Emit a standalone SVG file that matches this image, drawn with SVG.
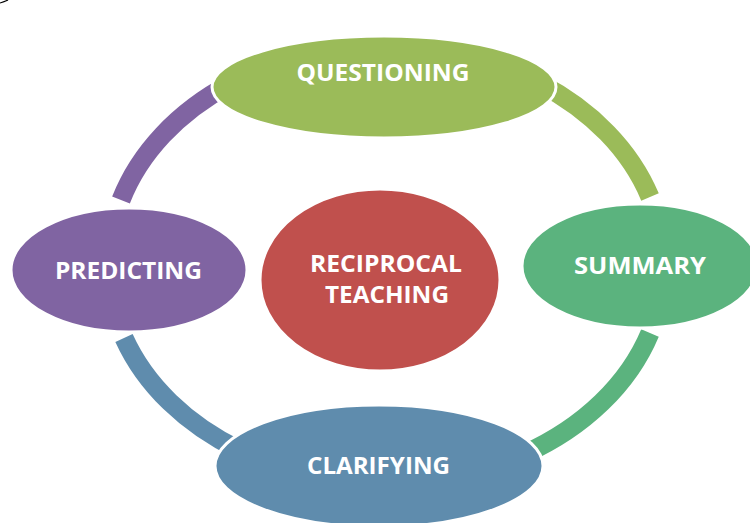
<svg xmlns="http://www.w3.org/2000/svg" width="750" height="523" viewBox="0 0 750 523">
  <style>
    .ring { fill: none; stroke-width: 19; stroke-linecap: butt; }
    .node { stroke: #ffffff; stroke-width: 3; }
    .label { fill: #ffffff; font-family: "Open Sans", "Liberation Sans", sans-serif; font-weight: bold; font-size: 24px; text-anchor: middle; }
  </style>
  <rect width="750" height="523" fill="#ffffff"/>
  <!-- small stroke fragment at the top-left corner -->
  <path d="M0 3 Q4 2 8 0" fill="none" stroke="#000000" stroke-width="1.2"/>

  <!-- cycle connectors: segments of one ellipse, centre (386,265), radii 278 x 218 -->
  <g id="connectors">
    <path class="ring" stroke="#9BBB59" d="M540 83.5 A278 218 0 0 1 650 197"/>
    <path class="ring" stroke="#5BB37E" d="M650 333 A278 218 0 0 1 525 453.8"/>
    <path class="ring" stroke="#5F8CAD" d="M240 450.5 A278 218 0 0 1 124 338"/>
    <path class="ring" stroke="#8064A2" d="M121 200 A278 218 0 0 1 230 84"/>
  </g>

  <g id="questioning">
    <ellipse class="node" cx="384" cy="87" rx="172" ry="51" fill="#9BBB59"/>
    <text class="label" x="383" y="81" textLength="173" lengthAdjust="spacingAndGlyphs">QUESTIONING</text>
  </g>
  <g id="summary">
    <ellipse class="node" cx="640" cy="266" rx="118" ry="62" fill="#5BB37E"/>
    <text class="label" x="640" y="274" textLength="132" lengthAdjust="spacingAndGlyphs">SUMMARY</text>
  </g>
  <g id="clarifying">
    <ellipse class="node" cx="379" cy="466" rx="164" ry="61" fill="#5F8CAD"/>
    <text class="label" x="378.5" y="474" textLength="143" lengthAdjust="spacingAndGlyphs">CLARIFYING</text>
  </g>
  <g id="predicting">
    <ellipse class="node" cx="129" cy="270" rx="118" ry="62" fill="#8064A2"/>
    <text class="label" x="128.5" y="279" textLength="147" lengthAdjust="spacingAndGlyphs">PREDICTING</text>
  </g>
  <g id="reciprocal-teaching">
    <ellipse class="node" cx="380" cy="280" rx="120" ry="91" fill="#C0504D"/>
    <text class="label" x="386" y="272" textLength="152" lengthAdjust="spacingAndGlyphs">RECIPROCAL</text>
    <text class="label" x="387" y="303" textLength="124" lengthAdjust="spacingAndGlyphs">TEACHING</text>
  </g>
</svg>
